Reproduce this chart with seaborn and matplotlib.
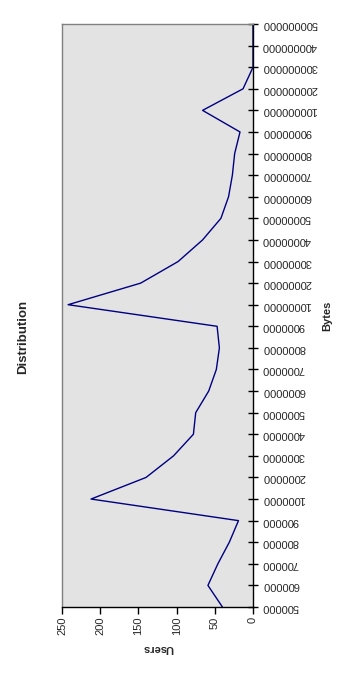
import matplotlib
matplotlib.use("Agg")
import matplotlib.pyplot as plt
import seaborn as sns
import pandas as pd

categories = ["500000", "600000", "700000", "800000", "900000",
              "1000000", "2000000", "3000000", "4000000", "5000000",
              "6000000", "7000000", "8000000", "9000000",
              "10000000", "20000000", "30000000", "40000000", "50000000",
              "60000000", "70000000", "80000000", "90000000",
              "100000000", "200000000", "300000000", "400000000", "500000000"]
users = [40, 59, 46, 31, 19,
         212, 140, 104, 78, 75,
         58, 48, 44, 47,
         242, 147, 98, 66, 42,
         32, 27, 24, 17,
         66, 13, 0, 0, 0]
value_ticks = [0, 50, 100, 150, 200, 250]

sns.set_theme(style="white")
plt.rcParams['font.family'] = ['Liberation Sans', 'DejaVu Sans']

W, H = 354, 674
fig = plt.figure(figsize=(W / 100, H / 100), dpi=100)
L, R, T, B = 62, 253, 24, 607
ax = fig.add_axes([L / W, 1 - B / H, (R - L) / W, (B - T) / H])
ax.set_facecolor("#E3E3E3")

df = pd.DataFrame({"pos": list(range(len(categories))), "users": users})
sns.lineplot(data=df, x="users", y="pos", orient="y", sort=False,
             estimator=None, color="#000080", linewidth=1.0, ax=ax)

ax.set_xlim(250, 0)
ax.set_ylim(0, len(categories) - 1)
ax.set_xticks(value_ticks)
ax.set_xticklabels([str(v) for v in value_ticks], rotation=90, fontsize=8)
ax.set_yticks(list(range(len(categories))))
ax.set_yticklabels(categories, rotation=180, fontsize=8, va="center")
ax.yaxis.tick_right()
ax.tick_params(axis="y", direction="inout", length=7, width=1, color="black", pad=3,
               right=True, left=False)
ax.tick_params(axis="x", direction="out", length=5, width=1, color="black", pad=2,
               bottom=True)
ax.set_xlabel("")
ax.set_ylabel("")
for s in ["left", "top"]:
    ax.spines[s].set_color("#808080")
    ax.spines[s].set_linewidth(1)
for s in ["right", "bottom"]:
    ax.spines[s].set_color("black")
    ax.spines[s].set_linewidth(1)

fig.text(23 / W, 1 - 337 / H, "Distribution", rotation=90, fontsize=9.5,
         fontweight="bold", ha="center", va="center")
fig.text(158 / W, 1 - 648 / H, "Users", rotation=180, fontsize=8,
         fontweight="bold", ha="center", va="center")
fig.text(327 / W, 1 - 316 / H, "Bytes", rotation=90, fontsize=8,
         fontweight="bold", ha="center", va="center")

fig.savefig("out.png", dpi=100, facecolor="white")
